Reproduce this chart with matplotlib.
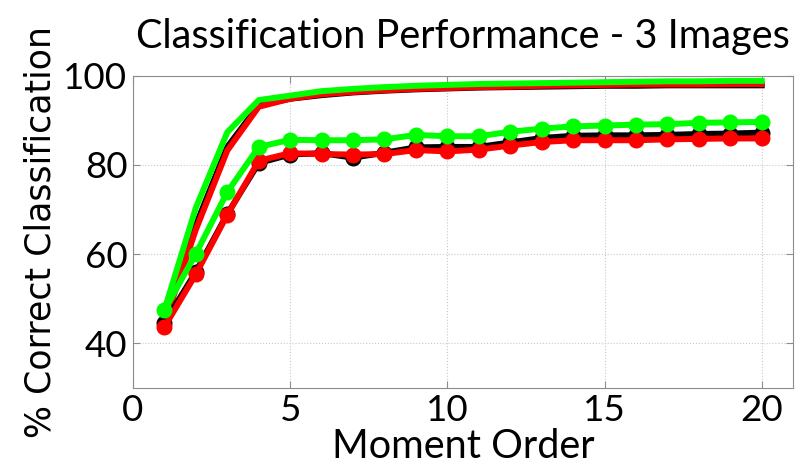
import matplotlib
matplotlib.use("Agg")
import matplotlib.pyplot as plt

order = list(range(1, 21))

# Upper curves (no markers)
black_top = [45.0, 66.5, 84.0, 93.3, 94.8, 95.6, 96.2, 96.6, 96.9, 97.1,
             97.3, 97.4, 97.5, 97.6, 97.7, 97.7, 97.8, 97.8, 97.8, 97.8]
red_top = [44.5, 65.5, 83.2, 93.0, 94.8, 95.8, 96.3, 96.7, 97.0, 97.2,
           97.4, 97.5, 97.7, 97.8, 97.9, 98.0, 98.0, 98.0, 98.1, 98.1]
green_top = [47.5, 70.4, 87.3, 94.5, 95.5, 96.5, 97.0, 97.4, 97.7, 97.9,
             98.1, 98.2, 98.3, 98.4, 98.5, 98.6, 98.7, 98.7, 98.8, 98.8]

# Lower curves (with markers)
black_low = [44.6, 56.0, 69.0, 80.4, 82.3, 82.6, 81.6, 82.7, 83.9, 84.0,
             84.0, 85.0, 86.0, 86.5, 86.6, 86.6, 86.7, 86.9, 87.0, 87.2]
red_low = [43.7, 55.5, 68.8, 80.9, 82.6, 82.4, 82.3, 82.4, 83.3, 83.0,
           83.4, 84.3, 85.1, 85.5, 85.5, 85.5, 85.7, 85.8, 85.9, 85.9]
green_low = [47.4, 60.1, 73.9, 84.0, 85.6, 85.5, 85.5, 85.7, 86.7, 86.4,
             86.4, 87.4, 88.1, 88.6, 88.8, 89.0, 89.1, 89.4, 89.5, 89.6]

fig = plt.figure(figsize=(8.11, 4.72), dpi=100)
ax = fig.add_axes([0.164, 0.178, 0.814, 0.662])

lw = 4.3
ms = 10.5
ax.plot(order, black_top, color='black', lw=lw, zorder=3)
ax.plot(order, red_top, color='#ff0000', lw=lw, zorder=3)
ax.plot(order, green_top, color='#00ff00', lw=lw, zorder=3)
ax.plot(order, black_low, color='black', lw=lw, marker='o', ms=ms, zorder=3)
ax.plot(order, red_low, color='#ff0000', lw=lw, marker='o', ms=ms, zorder=3)
ax.plot(order, green_low, color='#00ff00', lw=lw, marker='o', ms=ms, zorder=3)

ax.set_xlim(0, 21)
ax.set_ylim(30, 100)
ax.set_xticks([0, 5, 10, 15, 20])
ax.set_yticks([40, 60, 80, 100])
ax.grid(True, linestyle=':', color='#c8c8c8', lw=0.8)
for s in ax.spines.values():
    s.set_color('#8c8c8c')
ax.tick_params(direction='in', top=True, right=True, color='#8c8c8c',
               length=5, labelsize=26.5, pad=4)
for lab in ax.get_xticklabels() + ax.get_yticklabels():
    lab.set_fontfamily('Lato')

ax.set_title('Classification Performance - 3 Images', fontsize=28.5,
             family='Lato', pad=20)
ax.set_xlabel('Moment Order', fontsize=28.5, family='Lato', labelpad=1)
ax.set_ylabel('% Correct Classification', fontsize=25, family='DejaVu Sans',
              labelpad=4)

fig.savefig('out.png', dpi=100)
